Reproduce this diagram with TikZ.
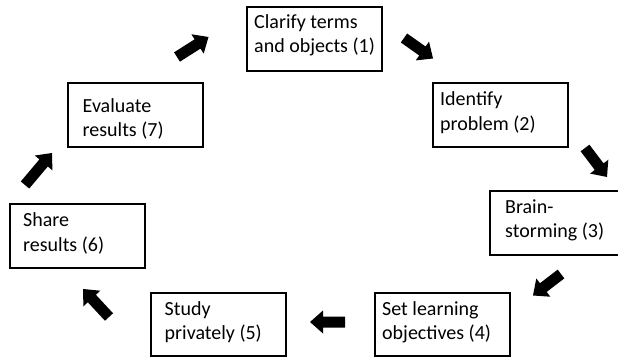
\documentclass[tikz,border=0pt]{standalone}
\usepackage{fontspec}
\setmainfont{Carlito}
\usetikzlibrary{calc}
\newcommand\blockarr[2]{%
  \coordinate (#2b) at ($(#2)!13pt!(#1)$);
  \fill[black] ($(#1)!5.5pt!90:(#2)$) -- ($(#2b)!5.5pt!90:(#2)$) -- ($(#2b)!11.5pt!90:(#2)$)
    -- (#2) -- ($(#2b)!11.5pt!-90:(#2)$) -- ($(#2b)!5.5pt!-90:(#2)$) -- ($(#1)!5.5pt!-90:(#2)$) -- cycle;}
\begin{document}
\begin{tikzpicture}[x=1pt,y=1pt,
  box/.style={draw=black, line width=2pt, minimum width=135pt, minimum height=64pt, inner sep=0pt},
  txt/.style={anchor=north west, inner sep=0pt, align=left, font=\fontsize{20}{24.5}\selectfont, text=black}]
\useasboundingbox (0,0) rectangle (618,357);
\clip (0,0) rectangle (618,357);
\fill[white] (0,0) rectangle (618,357);
% boxes
\node[box] (b1) at (314.5,318) {};
\node[box] (b2) at (500.5,242) {};
\node[box] (b3) at (557.5,134) {};
\node[box, minimum height=63pt] (b4) at (442.5,32.5) {};
\node[box, minimum height=63pt] (b5) at (218,32.5) {};
\node[box] (b6) at (77.5,121) {};
\node[box] (b7) at (135,242) {};
% texts
\node[txt] (t1) at ($(b1.north west)+(8,-4)$) {\rule{0pt}{18pt}Clarify terms\\and objects (1)};
\node[txt] (t2) at ($(b2.north west)+(8,-5.5)$) {\rule{0pt}{18pt}Identify\\problem (2)};
\node[txt] (t3) at ($(b3.north west)+(16,-5)$) {\rule{0pt}{18pt}Brain-\\storming (3)};
\node[txt] (t4) at ($(b4.north west)+(8,-5)$) {\rule{0pt}{18pt}Set learning\\objectives (4)};
\node[txt] (t5) at ($(b5.north west)+(15,-5)$) {\rule{0pt}{18pt}Study\\privately (5)};
\node[txt] (t6) at ($(b6.north west)+(14,-5.5)$) {\rule{0pt}{18pt}Share\\results (6)};
\node[txt] (t7) at ($(b7.north west)+(16,-12)$) {\rule{0pt}{18pt}Evaluate\\results (7)};
% arrow end points
\coordinate (a1t) at (177,300);   \coordinate (a1h) at (208.5,320);
\coordinate (a2t) at (404,319);   \coordinate (a2h) at (433,298.5);
\coordinate (a3t) at (585,209);   \coordinate (a3h) at (607,180);
\coordinate (a4t) at (561,83);    \coordinate (a4h) at (533,61.5);
\coordinate (a5t) at (345,35);    \coordinate (a5h) at (310,35);
\coordinate (a6t) at (109,40);    \coordinate (a6h) at (83,68);
\coordinate (a7t) at (25,172);    \coordinate (a7h) at (52,204);
\blockarr{a1t}{a1h}
\blockarr{a2t}{a2h}
\blockarr{a3t}{a3h}
\blockarr{a4t}{a4h}
\blockarr{a5t}{a5h}
\blockarr{a6t}{a6h}
\blockarr{a7t}{a7h}
\end{tikzpicture}
\end{document}
